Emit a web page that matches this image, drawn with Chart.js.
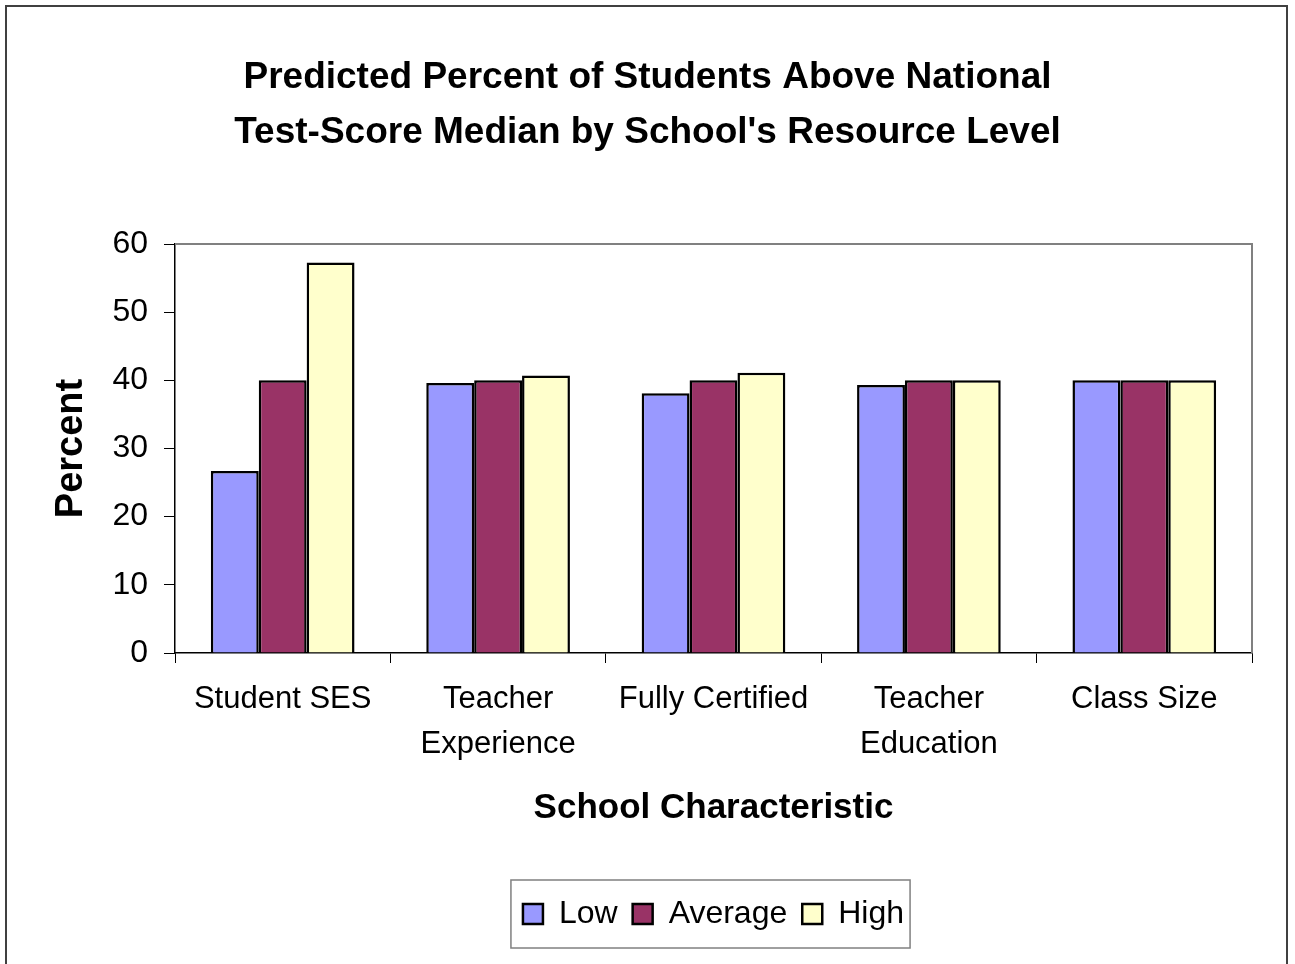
<!DOCTYPE html>
<html>
<head>
<meta charset="utf-8">
<script src="https://cdn.jsdelivr.net/npm/chart.js@4"></script>
<style>
  html, body { margin: 0; padding: 0; background: #fff; }
  #wrap { width: 1295px; height: 964px; }
</style>
</head>
<body>
<div id="wrap"><canvas id="resourceChart" width="1295" height="964"></canvas></div>
<script>
//############ Chart data ############
const categories = [['Student SES'], ['Teacher', 'Experience'], ['Fully Certified'], ['Teacher', 'Education'], ['Class Size']];
const lowValues = [26.7, 39.6, 38.1, 39.3, 40.0];
const averageValues = [40.0, 40.0, 40.0, 40.0, 40.0];
const highValues = [57.3, 40.7, 41.1, 40.0, 40.0];
const yTicks = [0, 10, 20, 30, 40, 50, 60];

const FONT = '"Liberation Sans", Arial, sans-serif';

//############ Frame, plot border and legend box ############
const framePlugin = {
    id: 'framePlugin',
    beforeDraw(chart) {
        const ctx = chart.ctx;
        ctx.save();
        ctx.fillStyle = '#ffffff';
        ctx.fillRect(0, 0, chart.width, chart.height);
        ctx.strokeStyle = '#404040';
        ctx.lineWidth = 2;
        ctx.strokeRect(6, 6, 1281, 1000);
        ctx.restore();
    },
    beforeDatasetsDraw(chart) {
        const {ctx, chartArea} = chart;
        ctx.save();
        ctx.strokeStyle = '#808080';
        ctx.lineWidth = 2;
        ctx.beginPath();
        ctx.moveTo(chartArea.left, chartArea.top);
        ctx.lineTo(chartArea.right, chartArea.top);
        ctx.lineTo(chartArea.right, chartArea.bottom);
        ctx.stroke();
        ctx.restore();
    },
    afterDraw(chart) {
        const legend = chart.legend;
        if (!legend || !legend.legendHitBoxes.length) return;
        const boxes = legend.legendHitBoxes;
        const left = Math.min(...boxes.map(b => b.left)) - 12;
        const right = Math.max(...boxes.map(b => b.left + b.width)) + 6;
        const mid = boxes[0].top + boxes[0].height / 2;
        const ctx = chart.ctx;
        ctx.save();
        ctx.strokeStyle = '#808080';
        ctx.lineWidth = 1.5;
        ctx.strokeRect(left, mid - 34, right - left, 68);
        ctx.restore();
    }
};

const makeDataset = (label, data, color) => ({
    label: label,
    data: data,
    backgroundColor: color,
    borderColor: '#000000',
    borderWidth: 2.5,
    categoryPercentage: 0.667,
    barPercentage: 1.0,
});

const resourceChart = new Chart(document.getElementById('resourceChart'), {
    type: 'bar',
    data: {
        labels: categories,
        datasets: [
            makeDataset('Low', lowValues, '#9999FF'),
            makeDataset('Average', averageValues, '#993366'),
            makeDataset('High', highValues, '#FFFFCC'),
        ],
    },
    options: {
        responsive: false,
        animation: false,
        layout: {
            padding: { left: 0, right: 0, top: 0, bottom: 24 },
        },
        plugins: {
            tooltip: { enabled: false },
            title: {
                display: true,
                text: ['Predicted Percent of Students Above National', "Test-Score Median by School's Resource Level"],
                color: '#000000',
                font: { family: FONT, size: 37, weight: 'bold', lineHeight: 1.5 },
                padding: { top: 50, bottom: 83 },
            },
            legend: {
                position: 'bottom',
                fullSize: false,
                labels: {
                    color: '#000000',
                    font: { family: FONT, size: 32 },
                    boxWidth: 20,
                    boxHeight: 20,
                    padding: 15,
                },
            },
        },
        scales: {
            x: {
                afterFit(scale) { scale.height = 230; },
                grid: {
                    display: true,
                    drawOnChartArea: false,
                    drawTicks: true,
                    tickLength: 10,
                    color: '#000000',
                    offset: true,
                },
                border: { display: true, color: '#000000', width: 1.5 },
                ticks: {
                    color: '#000000',
                    font: { family: FONT, size: 31, lineHeight: 1.45 },
                    padding: 14,
                    maxRotation: 0,
                    autoSkip: false,
                },
                title: {
                    display: true,
                    text: 'School Characteristic',
                    color: '#000000',
                    font: { family: FONT, size: 35, weight: 'bold', lineHeight: 1.2 },
                    padding: { top: 0, bottom: 54 },
                },
            },
            y: {
                min: 0,
                max: 60,
                afterFit(scale) { scale.width = 175; },
                afterBuildTicks(scale) { scale.ticks = yTicks.map(v => ({ value: v })); },
                grid: {
                    display: true,
                    drawOnChartArea: false,
                    drawTicks: true,
                    tickLength: 11,
                    color: '#000000',
                },
                border: { display: true, color: '#000000', width: 1.5 },
                ticks: {
                    color: '#000000',
                    font: { family: FONT, size: 32 },
                    padding: 16,
                },
                title: {
                    display: true,
                    text: 'Percent',
                    color: '#000000',
                    font: { family: FONT, size: 38, weight: 'bold', lineHeight: 1.2 },
                    padding: { top: 49, bottom: 0 },
                },
            },
            // empty right-hand margin so the title centres on the whole canvas
            yRight: {
                position: 'right',
                min: 0,
                max: 60,
                afterFit(scale) { scale.width = 43; },
                grid: { display: false },
                border: { display: false },
                ticks: { display: false },
            },
        },
    },
    plugins: [framePlugin],
});
</script>
</body>
</html>
